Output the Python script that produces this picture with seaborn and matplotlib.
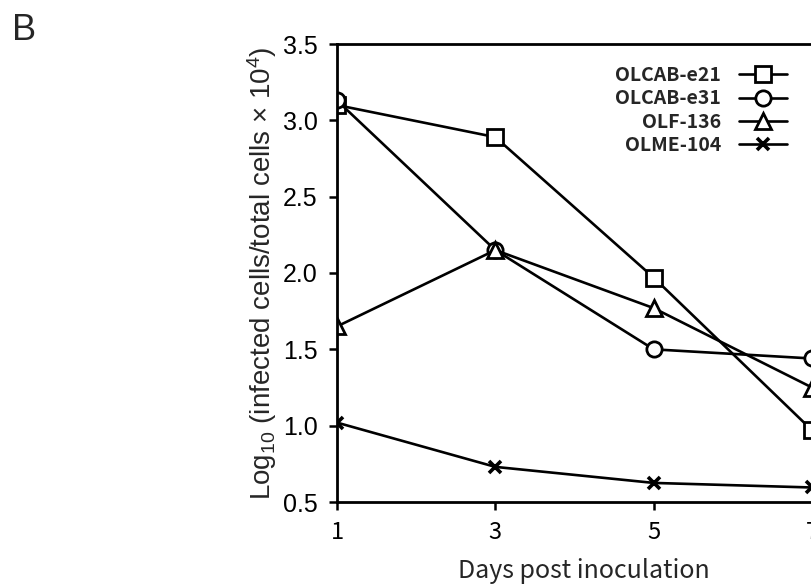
import matplotlib
matplotlib.use("Agg")
import matplotlib.pyplot as plt
import seaborn as sns
import pandas as pd

# values
days = [1, 3, 5, 7]
strains = ["OLCAB-e21", "OLCAB-e31", "OLF-136", "OLME-104"]
olcab_e21 = [3.10, 2.89, 1.97, 0.97]
olcab_e31 = [3.13, 2.15, 1.50, 1.44]
olf_136 = [1.65, 2.15, 1.77, 1.25]
olme_104 = [1.02, 0.73, 0.625, 0.595]
marker_list = ["s", "o", "^", "x"]
yticks = [0.5, 1.0, 1.5, 2.0, 2.5, 3.0, 3.5]

rows = []
for name, vals in zip(strains, [olcab_e21, olcab_e31, olf_136, olme_104]):
    for d, v in zip(days, vals):
        rows.append({"day": d, "value": v, "strain": name})
df = pd.DataFrame(rows)

sns.set_style("ticks")
plt.rcParams["font.family"] = ["Liberation Sans", "DejaVu Sans"]
plt.rcParams["mathtext.default"] = "regular"

fig = plt.figure(figsize=(8.12, 5.87), dpi=100)
ax = fig.add_axes([337 / 812, 85 / 587, 475 / 812, 458 / 587])

# one call per strain, so filled and line markers can sit together
for name, mk in zip(strains, marker_list):
    sub = df[df["strain"] == name]
    sns.lineplot(data=sub, x="day", y="value", color="black", marker=mk,
                 markersize=11 if mk != "x" else 8,
                 markerfacecolor="white", markeredgecolor="black",
                 markeredgewidth=2.0 if mk != "x" else 2.6,
                 linewidth=1.9, ax=ax, label=name, legend=False)

ax.set_xlim(1, 7)
ax.set_ylim(0.5, 3.5)
ax.set_xticks(days)
ax.set_yticks(yticks)
ax.set_yticklabels([f"{t:.1f}" for t in yticks], fontsize=18)
ax.set_xticklabels([str(d) for d in days], fontsize=17,
                   family=["Noto Sans CJK JP", "DejaVu Sans"])
ax.tick_params(axis="both", direction="out", length=6, width=1.8, colors="black")
ax.tick_params(axis="y", pad=8)
ax.tick_params(axis="x", pad=8)
for s in ax.spines.values():
    s.set_linewidth(2.0)
    s.set_color("black")

ax.set_xlabel("Days post inoculation", fontsize=18,
              family=["Noto Sans CJK JP", "DejaVu Sans"])
ax.xaxis.set_label_coords(0.52, -0.122)
ax.set_ylabel("Log$_{10}$ (infected cells/total cells \u00d7 10$^4$)", fontsize=20,
              labelpad=3)

handles = ax.get_lines()[:4]
leg = ax.legend(handles=handles, labels=strains, loc="upper right",
                bbox_to_anchor=(0.985, 0.99), markerfirst=False, frameon=False,
                handlelength=2.5, handletextpad=0.9, labelspacing=0.22,
                prop={"family": ["Noto Sans CJK JP", "DejaVu Sans"],
                      "weight": "bold", "size": 14})

fig.text(12 / 812, 1 - 40 / 587, "B", fontsize=26, ha="left", va="baseline")

fig.savefig("out.png", dpi=100)
